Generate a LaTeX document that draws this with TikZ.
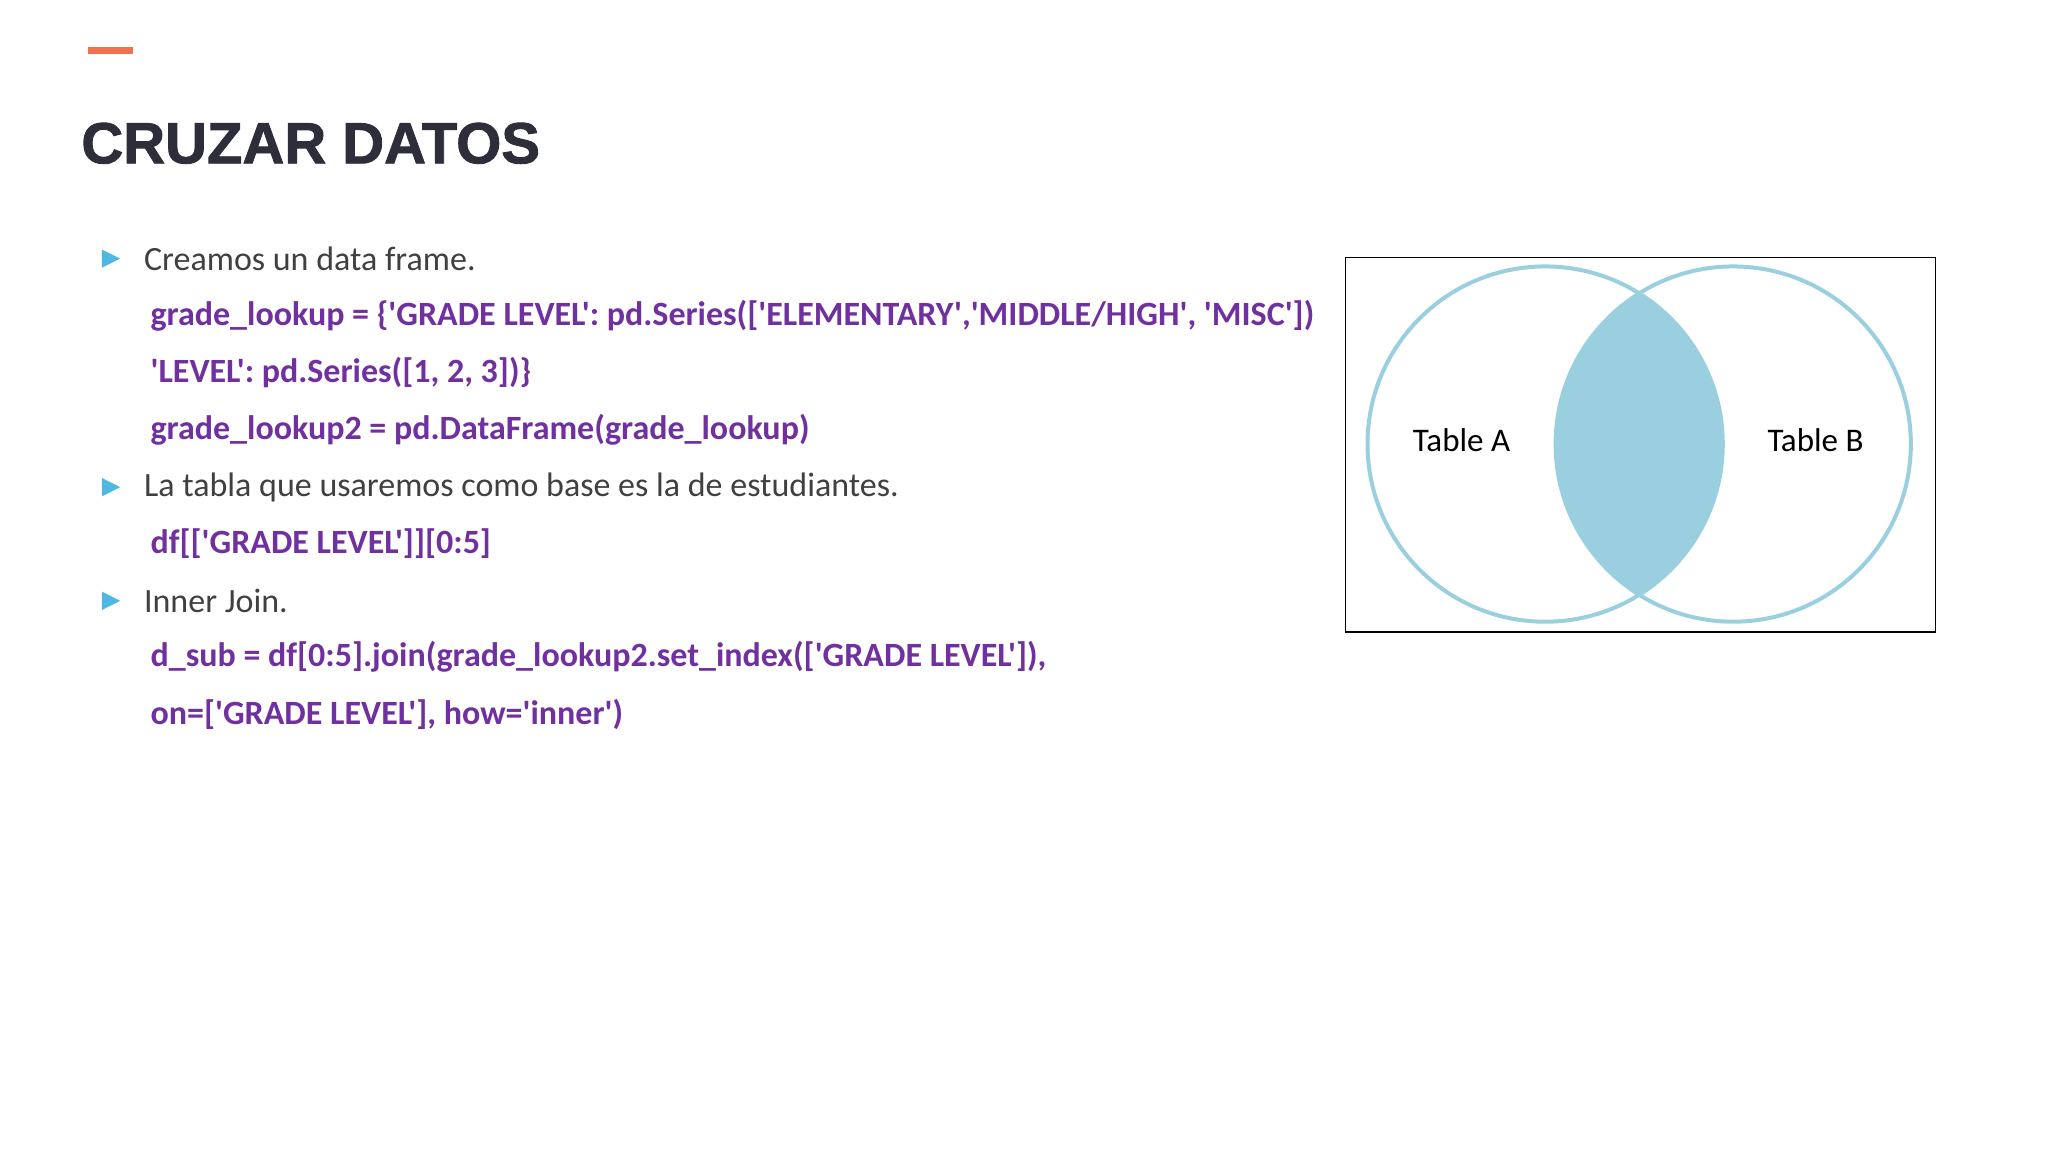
\documentclass[tikz,border=0pt]{standalone}
\usepackage{fontspec}
\newfontfamily\calfont{Carlito}
\newfontfamily\titlefont{Liberation Sans}[BoldFeatures={FakeBold=1.5}]
\definecolor{orng}{HTML}{F07050}
\definecolor{ttl}{HTML}{2E2E3A}
\definecolor{bul}{HTML}{4FB8E0}
\definecolor{txt}{HTML}{404040}
\definecolor{code}{HTML}{7030A0}
\definecolor{venn}{HTML}{9ACFE0}
\begin{document}
\begin{tikzpicture}[x=0.653pt,y=-0.653pt,
  bullettxt/.style={anchor=west,text=txt,font=\calfont\fontsize{17}{19}\selectfont,inner sep=0},
  codetxt/.style={anchor=west,text=code,font=\calfont\bfseries\fontsize{17}{19}\selectfont,inner sep=0},
  tri/.style={fill=bul},
  vlabel/.style={font=\calfont\fontsize{16.5}{19}\selectfont,inner sep=0}]
\useasboundingbox (0,0) rectangle (1568,882);
\fill[orng] (67,36) rectangle (102,41);
\node[anchor=base west,inner sep=0,text=ttl,font=\titlefont\bfseries\fontsize{29}{34}\selectfont] (title) at (62,125) {CRUZAR DATOS};
\foreach \y/\n in {198/b1,373/b2,460/b3}{
  \fill[tri] (78,\y-7) -- (92,\y) -- (78,\y+7) -- cycle;
}
\node[bullettxt] (t1) at (110,198) {Creamos un data frame.};
\begin{scope}
\clip (100,220) rectangle (1007,262);
\node[codetxt] (c1) at (115,242) {grade\_lookup = \{'GRADE LEVEL': pd.Series(['ELEMENTARY','MIDDLE/HIGH', 'MISC']),};
\end{scope}
\node[codetxt] (c2) at (115,285) {'LEVEL': pd.Series([1, 2, 3])\}};
\node[codetxt] (c3) at (115,329) {grade\_lookup2 = pd.DataFrame(grade\_lookup)};
\node[bullettxt] (t2) at (110,373) {La tabla que usaremos como base es la de estudiantes.};
\node[codetxt] (c4) at (115,416) {df[['GRADE LEVEL']][0:5]};
\node[bullettxt] (t3) at (110,460) {Inner Join.};
\node[codetxt] (c5) at (115,503) {d\_sub = df[0:5].join(grade\_lookup2.set\_index(['GRADE LEVEL']),};
\node[codetxt] (c6) at (115,547) {on=['GRADE LEVEL'], how='inner')};
% venn
\draw[black,line width=0.8pt] (1030,197) rectangle (1482,484);
\begin{scope}
\clip (1183,340) circle (136);
\fill[venn] (1327,340) circle (136);
\end{scope}
\draw[venn,line width=2pt] (1183,340) circle (136);
\draw[venn,line width=2pt] (1327,340) circle (136);
\node[vlabel] (ta) at (1119,337) {Table A};
\node[vlabel] (tb) at (1390,337) {Table B};
\end{tikzpicture}
\end{document}
